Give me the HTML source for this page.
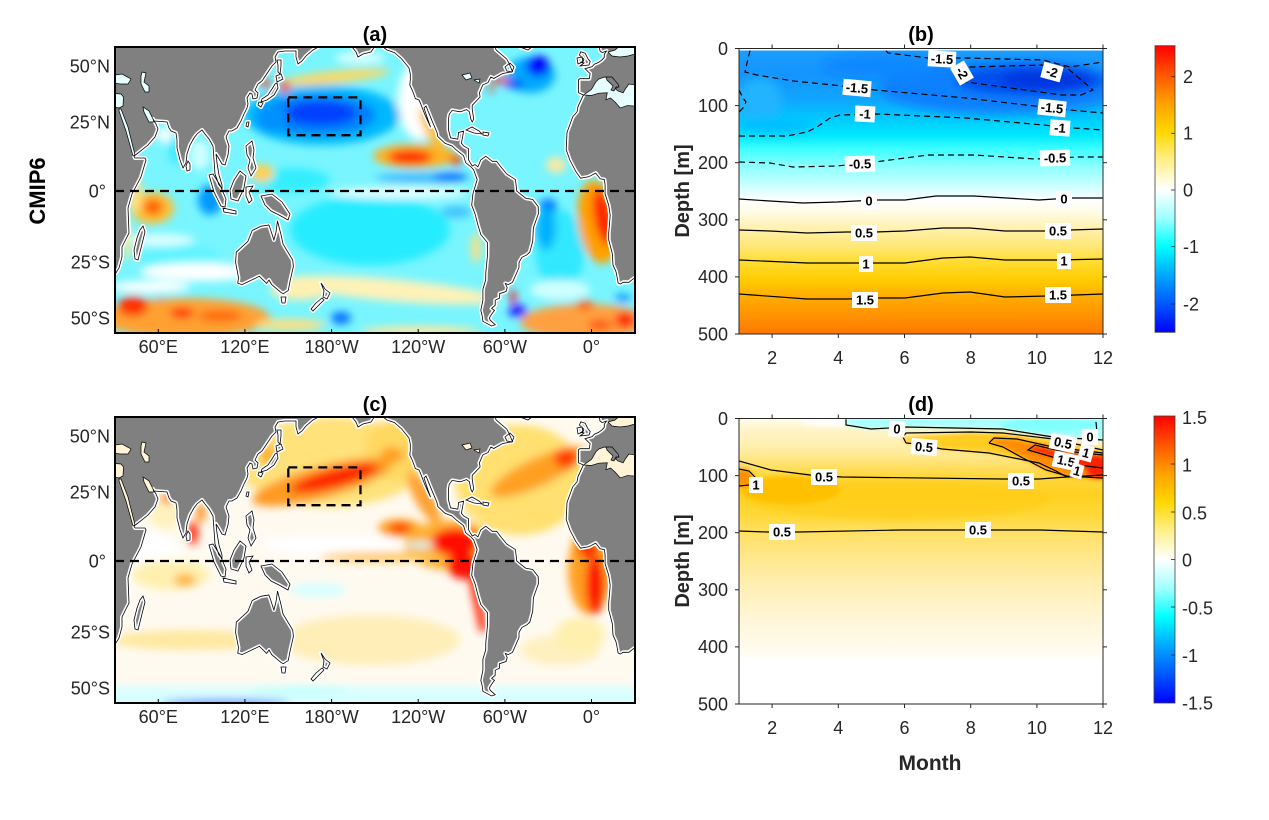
<!DOCTYPE html>
<html><head><meta charset="utf-8"><style>html,body{margin:0;padding:0;background:#fff}svg{display:block}</style></head>
<body>
<svg width="1269" height="820" viewBox="0 0 1269 820" xmlns="http://www.w3.org/2000/svg" xmlns:xlink="http://www.w3.org/1999/xlink" font-family="'Liberation Sans', Arial, sans-serif">
<defs>
<filter id="bM" x="-20%" y="-20%" width="140%" height="140%"><feGaussianBlur stdDeviation="4.2"/></filter>
<filter id="bB" x="-20%" y="-20%" width="140%" height="140%"><feGaussianBlur stdDeviation="5"/></filter>
<filter id="bD" x="-20%" y="-20%" width="140%" height="140%"><feGaussianBlur stdDeviation="2.5"/></filter>
<clipPath id="cA"><rect x="115" y="47" width="520" height="286"/></clipPath>
<clipPath id="cC"><rect x="115" y="417" width="520" height="286"/></clipPath>
<clipPath id="cB"><rect x="739" y="50.5" width="364" height="283.5"/></clipPath>
<clipPath id="cD"><rect x="739" y="419.3" width="364" height="239"/></clipPath>
<linearGradient id="cbar" x1="0" y1="0" x2="0" y2="1">
<stop offset="0" stop-color="#ff0000"/><stop offset="0.1" stop-color="#ff5500"/><stop offset="0.2" stop-color="#ffa000"/><stop offset="0.3" stop-color="#ffd700"/><stop offset="0.4" stop-color="#ffef8a"/><stop offset="0.5" stop-color="#ffffff"/><stop offset="0.6" stop-color="#a0ffff"/><stop offset="0.7" stop-color="#00ffff"/><stop offset="0.8" stop-color="#00a8ff"/><stop offset="0.9" stop-color="#0058ff"/><stop offset="1" stop-color="#0000ff"/>
</linearGradient>
<linearGradient id="gB" gradientUnits="userSpaceOnUse" x1="0" y1="48.5" x2="0" y2="334">
<stop offset="0" stop-color="#1c9eff"/><stop offset="0.093" stop-color="#1494ff"/><stop offset="0.18" stop-color="#10a6ff"/><stop offset="0.243" stop-color="#00c8ff"/><stop offset="0.303" stop-color="#00e8ff"/><stop offset="0.355" stop-color="#40ffff"/><stop offset="0.408" stop-color="#88ffff"/><stop offset="0.478" stop-color="#c8ffff"/><stop offset="0.531" stop-color="#ffffff"/><stop offset="0.573" stop-color="#fffbe6"/><stop offset="0.636" stop-color="#fff0a8"/><stop offset="0.699" stop-color="#ffe670"/><stop offset="0.748" stop-color="#ffdc30"/><stop offset="0.811" stop-color="#ffcc00"/><stop offset="0.870" stop-color="#ffac00"/><stop offset="0.944" stop-color="#ff9000"/><stop offset="1" stop-color="#ff7800"/>
</linearGradient>
<linearGradient id="gD" gradientUnits="userSpaceOnUse" x1="0" y1="419" x2="0" y2="660">
<stop offset="0" stop-color="#fffbe8"/><stop offset="0.046" stop-color="#fff4c8"/><stop offset="0.108" stop-color="#fff0b0"/><stop offset="0.170" stop-color="#ffe580"/><stop offset="0.232" stop-color="#ffd840"/><stop offset="0.315" stop-color="#ffd020"/><stop offset="0.398" stop-color="#ffd838"/><stop offset="0.481" stop-color="#ffe068"/><stop offset="0.585" stop-color="#ffe890"/><stop offset="0.710" stop-color="#fff0b8"/><stop offset="0.834" stop-color="#fff6d8"/><stop offset="0.959" stop-color="#fffbee"/><stop offset="0.988" stop-color="#fffdf7"/><stop offset="1" stop-color="#ffffff"/>
</linearGradient>
<path id="LP" d="M108,40 L325,40 L322,45 L313,50 L306,56 L302,61 L298,64 L296,57 L296,51 L285,51 L278,52 L275,57 L276,62 L272,66 L268,72 L264,78 L262,81 L258,84 L256,88 L255,90 L258,93 L257,98 L253,99 L252,94 L250,93 L247,98 L248,104 L247,108 L244,114 L241,121 L237,128 L232,131 L229,131 L226,137 L229,146 L228,155 L225,165 L222,164 L218,157 L216,154 L217,163 L219,175 L222,185 L222,188 L219,185 L215,174 L214,160 L213,146 L209,139 L205,134 L202,130 L197,134 L194,138 L190,145 L187,154 L186,163 L183,168 L180,160 L177,148 L177,140 L176,133 L171,131 L169,128 L167,122 L154,121 L153,119 L156,124 L158,129 L155,137 L148,145 L138,153 L134,156 L135,158 L145,158 L146,160 L141,177 L132,194 L128,208 L129,233 L122,247 L122,257 L119,268 L114,276 L108,277 Z
M277,60 L281,60 L281,66 L280,74 L278,72 L278,65 Z
M276,76 L281,74 L283,79 L277,82 Z
M277,83 L278,88 L274,95 L267,100 L261,102 L262,99 L268,95 L272,89 L275,84 Z
M259,102 L263,103 L261,107 L258,105 Z
M247,122 L249,122 L248,127 L246,126 Z
M246,146 L252,141 L254,150 L253,158 L256,168 L251,176 L248,168 L250,160 L247,155 Z
M230,190 L234,180 L240,171 L246,176 L244,188 L238,201 L231,199 Z
M209,175 L213,174 L220,185 L226,199 L225,207 L221,206 L214,192 Z
M223,208 L236,211 L236,214 L224,212 Z
M246,187 L253,186 L249,192 L252,200 L249,203 L246,196 Z
M261,196 L272,194 L282,202 L290,214 L288,220 L279,215 L271,211 L265,205 Z
M277.5,221 L281,234.6 L283,244 L292.7,260 L293.4,266.4 L289.8,282.3 L288.3,290.4 L283.3,293.7 L281.1,292.6 L271.7,284.6 L269,280 L266.6,283.4 L259.4,276.3 L242.1,284.6 L237.8,283.2 L238.5,277.5 L235.6,262.5 L236.3,252.1 L247.9,241.4 L252.2,230.5 L260.8,226.3 L268.8,225 L270,228 L273.9,240 L276,232 Z
M281,297 L286,297 L285,303 L282,303 Z
M321,283 L325,289 L330,293 L327,299 L323,297 L324,291 Z
M322,298 L324,300 L318,306 L313,311 L311,309 L316,303 Z
M188,161 L190,164 L190,170 L187,171 L186,166 Z
M143,226 L145,232 L141,248 L138,260 L135,259 L134,250 L137,238 L140,230 Z
M351,40 L352,47 L356,52 L358,57 L363,54 L371,52 L379,40 Z
M381,40 L383,47 L387,50 L394.5,52.6 L401.7,59 L409,68 L410.3,74 L410.3,80 L409.8,85 L412.6,91 L415.4,98.6 L419,100 L420.5,103.3 L425,115 L430.6,127.2 L428,120 L424,108 L426,106 L432,120.7 L437,132.5 L437.8,136.5 L445,143.3 L452,146 L456.3,150 L463.6,155.7 L465.7,162.7 L471,167 L473.6,169.7 L477.2,179.6 L472.9,193.8 L471.7,205.2 L475,213.7 L477.9,224.9 L480.8,234.6 L487.6,242.8 L487.4,256.3 L485.8,272.6 L485.7,279.9 L482.9,289.2 L482.9,300.2 L480.8,310.4 L482.2,316 L482.9,321.3 L491.6,326 L495.2,324.7 L490.1,320.1 L489.4,317.9 L491.6,314.2 L494.5,310.4 L491.6,308.4 L495.2,305.3 L495.2,300.2 L499.5,298.1 L499.5,293.7 L506,291.5 L507.2,287.6 L505.3,283.4 L508.2,284.6 L512.5,282.3 L519,267.6 L519,262.5 L521.9,257.4 L526.9,254.8 L529.8,252.1 L532.7,241.4 L533.4,227.7 L538.4,213.7 L538.2,206.6 L532.7,199.5 L525.5,198.1 L516.8,191 L515.4,179.6 L506.7,174 L500.9,166.9 L496.6,161.3 L492.3,161.3 L485.8,156.2 L480.8,159.9 L477.9,166.9 L475,164.6 L472.2,166 L468.6,159.9 L468.6,148.8 L463.6,146 L461.4,143.3 L463.6,131.2 L458.6,132.5 L457.8,139.2 L450.6,137.9 L448.5,129.9 L448.5,119.1 L449.2,114.4 L452.1,110.4 L459.3,111.7 L460.7,111.7 L466.5,109.6 L469.4,111.7 L470.8,119.1 L472.2,122 L473.7,119.1 L472.2,109.1 L472.2,105.3 L480.1,97 L479.4,92.8 L482.3,86.1 L483,84.8 L488,82.6 L490.9,77 L493.8,78.5 L502.4,73.6 L512.5,71.6 L508.9,63.2 L506.7,59 L500.9,54.1 L495.9,49.7 L494,40 Z
M517,40 L520,47 L528,50 L532,47 L535,40 Z
M466,130 L472,127 L479,131 L482,134 L474,133 Z
M483,132 L489,133 L488,136 L483,135 Z
M505,67 L510,63 L514,67 L512,72 L507,71 Z
M580.1,66 L584,63 L580.8,62.4 L583.7,60.7 L583.7,59 L579.4,55 L580.8,51.8 L585.2,53.3 L588.1,59 L590.2,61.5 L589,65 Z
M577,58 L582,57 L583,62 L578,64 Z
M599,40 L599.3,47 L600,51 L602.2,52.6 L606.5,51 L604.3,54.3 L604.3,57.3 L602.2,59.7 L598.6,62.4 L594.3,64.2 L592.1,66.6 L585,68.7 L590.1,73.6 L589.3,78.7 L579.9,78.7 L578.5,79.8 L578.5,89 L578.5,92.8 L583.6,95.1 L582.9,96 L577.9,106.9 L577.1,111.7 L572.7,116.9 L567,132.5 L566.2,149.6 L569.8,159.9 L572.7,165.5 L575.6,171.1 L580.6,178.2 L588.6,176.8 L595.7,173.1 L600.1,178.8 L604.4,179.6 L605.1,185.3 L605.1,193.8 L608.7,205.2 L610.2,215.1 L608.7,233.2 L608.7,240 L612.3,253.5 L613,265.1 L615.9,271.4 L617.4,278.7 L618.1,283 L620.2,284.1 L623.1,282.3 L628.9,282.3 L631.8,279.9 L642,273 L642,40 Z"/>
<path id="SP" d="M108,76 L122,74 L131,79 L128,84 L120,84 L108,82 Z
M142,72 L146,73 L144,82 L149,86 L149,92 L145,92 L141,84 L141,76 Z
M108,93 L121,94 L123.5,97 L123,106 L119,108 L108,106 Z
M119,109 L121,109 L128,127 L135,155 L133,156 L126,131 L119,111 Z
M153,119 L149,111 L143,107 L144,112 L149,122 L154,122 Z
M583.6,95 L591.5,89.4 L595.9,81.8 L598.7,79.1 L604.4,77 L608.8,77.6 L614.5,84 L618.1,86.1 L615.5,89 L618,91 L623.1,92.8 L626,88 L628.9,84 L642,86 L642,106.5 L627.4,105.6 L620.2,107.9 L615,102 L610.5,98 L605.9,99.7 L607.3,92.8 L598.7,93.2 L591.5,95.5 Z
M608,52 L615,50 L622,44 L642,44 L642,52 L628,56 L620,57 L612,56 Z
M462,75 L470,73 L472,78 L466,80 Z M474,80 L480,79 L479,83 Z"/>
<path id="IT" d="M606,77 L612,77 L618,84 L619,87 L616,87 L614,91 L611,90 L613,86 L607,80 Z"/>
</defs>
<rect width="1269" height="820" fill="#fff"/>

<!-- ===== Panel (a) ===== -->
<g clip-path="url(#cA)">
<rect x="110" y="42" width="530" height="296" fill="#78f5ff"/>
<g filter="url(#bM)">
<ellipse cx="370" cy="230" rx="80" ry="35" fill="#28ecff"/>
<ellipse cx="290" cy="180" rx="40" ry="12" fill="#30eeff"/>
<ellipse cx="180" cy="258" rx="40" ry="14" fill="#60f4ff"/>
<ellipse cx="560" cy="250" rx="25" ry="40" fill="#30e8ff"/>
<ellipse cx="420" cy="100" rx="22" ry="40" fill="#ffffff"/>
<ellipse cx="360" cy="58" rx="25" ry="6" fill="#d8ffff"/>
<ellipse cx="200" cy="272" rx="60" ry="9" fill="#ffffff"/>
<ellipse cx="160" cy="240" rx="35" ry="6" fill="#e0ffff"/>
<ellipse cx="400" cy="193" rx="70" ry="6" fill="#e8ffff"/>
<ellipse cx="150" cy="287" rx="40" ry="6" fill="#ffffff"/>
<ellipse cx="560" cy="290" rx="30" ry="10" fill="#d0ffff"/>
<ellipse cx="390" cy="290" rx="110" ry="11" transform="rotate(5 390 290)" fill="#fff2b8"/>
<ellipse cx="300" cy="290" rx="30" ry="10" fill="#fff0b0"/>
<ellipse cx="556" cy="165" rx="10" ry="8" fill="#ffe8a0"/>
<ellipse cx="322" cy="115" rx="78" ry="30" fill="#00b8ff"/>
<ellipse cx="318" cy="115" rx="58" ry="20" fill="#0080ff"/>
<ellipse cx="320" cy="113" rx="36" ry="12" fill="#0040ff"/>
<ellipse cx="272" cy="118" rx="16" ry="14" fill="#0090ff"/>
<ellipse cx="420" cy="178" rx="45" ry="5" fill="#40b8ff"/>
<ellipse cx="450" cy="177" rx="18" ry="4" fill="#0060ff"/>
<ellipse cx="210" cy="200" rx="12" ry="15" fill="#0098ff"/>
<ellipse cx="530" cy="75" rx="25" ry="18" fill="#00a8ff"/>
<ellipse cx="538" cy="66" rx="12" ry="10" fill="#0000ff"/>
<ellipse cx="514" cy="84" rx="9" ry="4" fill="#0020ff"/>
<ellipse cx="548" cy="207" rx="9" ry="8" fill="#0068ff"/>
<ellipse cx="546" cy="228" rx="10" ry="22" fill="#00b0ff"/>
<ellipse cx="518" cy="311" rx="9" ry="6" fill="#0010ff"/>
<ellipse cx="341" cy="318" rx="10" ry="6" fill="#0068ff"/>
<ellipse cx="162" cy="302" rx="5" ry="5" fill="#0080ff"/>
<ellipse cx="623" cy="298" rx="8" ry="4" fill="#0090ff"/>
<ellipse cx="456" cy="212" rx="15" ry="6" fill="#40c0ff"/>
<ellipse cx="335" cy="77" rx="55" ry="6" transform="rotate(-6 335 77)" fill="#ffd860"/>
<ellipse cx="266" cy="84" rx="4" ry="5" fill="#ff2000"/>
<ellipse cx="285" cy="87" rx="5" ry="6" fill="#ff2000"/>
<ellipse cx="432" cy="128" rx="8" ry="24" transform="rotate(-25 432 128)" fill="#ffc040"/>
<ellipse cx="415" cy="156" rx="42" ry="12" fill="#ffb020"/>
<ellipse cx="410" cy="157" rx="22" ry="7" fill="#ff2800"/>
<ellipse cx="456" cy="160" rx="6" ry="5" fill="#ff3000"/>
<ellipse cx="262" cy="173" rx="12" ry="9" fill="#ffd050"/>
<ellipse cx="152" cy="208" rx="22" ry="16" fill="#ffc030"/>
<ellipse cx="153" cy="207" rx="10" ry="8" fill="#ff6000"/>
<ellipse cx="135" cy="195" rx="7" ry="18" fill="#ffe080"/>
<ellipse cx="185" cy="318" rx="85" ry="20" fill="#ffa030"/>
<ellipse cx="133" cy="306" rx="15" ry="10" fill="#ff3000"/>
<ellipse cx="182" cy="313" rx="12" ry="5" fill="#ff2000"/>
<ellipse cx="220" cy="316" rx="22" ry="5" fill="#ff6000"/>
<ellipse cx="290" cy="325" rx="35" ry="6" fill="#ffe080"/>
<ellipse cx="420" cy="331" rx="60" ry="5" fill="#ffe8a0"/>
<ellipse cx="500" cy="80" rx="10" ry="3" fill="#ff2000"/>
<ellipse cx="491" cy="89" rx="3" ry="3" fill="#ff2000"/>
<ellipse cx="598" cy="222" rx="20" ry="42" transform="rotate(-8 598 222)" fill="#ffa000"/>
<ellipse cx="603" cy="217" rx="9" ry="28" transform="rotate(-10 603 217)" fill="#ff2000"/>
<ellipse cx="585" cy="322" rx="65" ry="18" fill="#ffa040"/>
<ellipse cx="625" cy="320" rx="10" ry="8" fill="#ff2000"/>
<ellipse cx="585" cy="305" rx="8" ry="5" fill="#ff6000"/>
<ellipse cx="600" cy="325" rx="12" ry="5" fill="#ff5000"/>
<ellipse cx="513" cy="297" rx="3" ry="7" fill="#ff0000"/>
<ellipse cx="476" cy="248" rx="5" ry="15" fill="#ffe080"/>
<ellipse cx="165" cy="135" rx="8" ry="8" fill="#ffffff"/>
<ellipse cx="175" cy="150" rx="6" ry="15" fill="#40e8ff"/>
<ellipse cx="200" cy="155" rx="10" ry="15" fill="#d0ffff"/>
<ellipse cx="127" cy="240" rx="4" ry="20" fill="#ffe890"/>
</g>
<use xlink:href="#LP" href="#LP" fill="#808080" stroke="#ffffff" stroke-width="4" stroke-linejoin="round"/>
<use xlink:href="#LP" href="#LP" fill="none" stroke="#000" stroke-width="0.8"/>
<use xlink:href="#SP" href="#SP" fill="#e8ffff" stroke="#000" stroke-width="0.7"/>
<use xlink:href="#IT" href="#IT" fill="#808080" stroke="#000" stroke-width="0.7"/>
<line x1="115" y1="191" x2="635" y2="191" stroke="#000" stroke-width="2.3" stroke-dasharray="9,6"/>
<rect x="288.3" y="97.4" width="72.2" height="37.8" fill="none" stroke="#000" stroke-width="2.3" stroke-dasharray="9,6"/>
</g>
<rect x="115" y="47" width="520" height="286" fill="none" stroke="#000" stroke-width="2"/>
<g stroke="#000" stroke-width="1">
<line x1="158.3" y1="333" x2="158.3" y2="329"/><line x1="244.9" y1="333" x2="244.9" y2="329"/><line x1="331.6" y1="333" x2="331.6" y2="329"/><line x1="418.2" y1="333" x2="418.2" y2="329"/><line x1="504.9" y1="333" x2="504.9" y2="329"/><line x1="591.5" y1="333" x2="591.5" y2="329"/>
</g>

<!-- ===== Panel (c) ===== -->
<g clip-path="url(#cC)">
<rect x="110" y="412" width="530" height="296" fill="#fffaf0"/>
<g filter="url(#bM)">
<ellipse cx="330" cy="545" rx="70" ry="10" fill="#ffffff"/>
<ellipse cx="150" cy="560" rx="30" ry="30" fill="#ffffff"/>
<ellipse cx="330" cy="462" rx="95" ry="45" fill="#ffe27a"/>
<ellipse cx="395" cy="450" rx="30" ry="30" fill="#ffd860"/>
<ellipse cx="322" cy="482" rx="72" ry="16" transform="rotate(-15 322 482)" fill="#ff9a20"/>
<ellipse cx="335" cy="478" rx="45" ry="9" transform="rotate(-15 335 478)" fill="#ff2800"/>
<ellipse cx="392" cy="455" rx="12" ry="8" fill="#ffa020"/>
<ellipse cx="400" cy="528" rx="22" ry="9" fill="#ffa020"/>
<ellipse cx="400" cy="528" rx="11" ry="5" fill="#ff3000"/>
<ellipse cx="424" cy="498" rx="9" ry="30" transform="rotate(-30 424 498)" fill="#ffa030"/>
<ellipse cx="450" cy="545" rx="45" ry="25" fill="#ffb030"/>
<ellipse cx="455" cy="542" rx="24" ry="14" fill="#ff1000"/>
<ellipse cx="463" cy="565" rx="16" ry="14" fill="#ff1000"/>
<path d="M468,575 L478,575 L487,630 L480,632 Z" fill="#ff2000"/>
<ellipse cx="380" cy="557" rx="60" ry="5" fill="#ffc860"/>
<ellipse cx="420" cy="545" rx="14" ry="3" fill="#c8ffff"/>
<ellipse cx="318" cy="590" rx="28" ry="7" fill="#d6ffff"/>
<ellipse cx="520" cy="480" rx="65" ry="55" fill="#ffe070"/>
<ellipse cx="538" cy="472" rx="52" ry="14" transform="rotate(-25 538 472)" fill="#ffa020"/>
<ellipse cx="566" cy="458" rx="12" ry="10" fill="#ff4000"/>
<ellipse cx="590" cy="570" rx="22" ry="45" fill="#ffa020"/>
<ellipse cx="595" cy="585" rx="9" ry="30" fill="#ff1000"/>
<ellipse cx="588" cy="547" rx="10" ry="12" fill="#ff3000"/>
<ellipse cx="600" cy="453" rx="5" ry="3" fill="#ff3000"/>
<ellipse cx="620" cy="460" rx="10" ry="4" fill="#ffa040"/>
<ellipse cx="165" cy="510" rx="18" ry="20" fill="#fff2c0"/>
<ellipse cx="193" cy="533" rx="5" ry="12" fill="#ff2000"/>
<ellipse cx="167" cy="498" rx="6" ry="6" fill="#ff8000"/>
<ellipse cx="201" cy="513" rx="4" ry="10" fill="#ff8000"/>
<ellipse cx="170" cy="575" rx="40" ry="15" fill="#fff0b0"/>
<ellipse cx="185" cy="580" rx="11" ry="6" fill="#ffb030"/>
<ellipse cx="190" cy="640" rx="80" ry="10" fill="#ffe8a0"/>
<ellipse cx="370" cy="640" rx="90" ry="25" fill="#ffeeb8"/>
<ellipse cx="560" cy="650" rx="40" ry="15" fill="#fff0c0"/>
<ellipse cx="580" cy="635" rx="25" ry="18" fill="#fff0b0"/>
<rect x="100" y="686" width="550" height="30" fill="#d8ffff"/>
<ellipse cx="300" cy="690" rx="50" ry="4" fill="#c0ffff"/>
<ellipse cx="225" cy="703" rx="65" ry="3" fill="#0050ff"/>
<ellipse cx="268" cy="455" rx="8" ry="10" fill="#ffb030"/>
</g>
<g transform="translate(0,370)">
<use xlink:href="#LP" href="#LP" fill="#808080" stroke="#ffffff" stroke-width="4" stroke-linejoin="round"/>
<use xlink:href="#LP" href="#LP" fill="none" stroke="#000" stroke-width="0.8"/>
<use xlink:href="#SP" href="#SP" fill="#fff4d8" stroke="#000" stroke-width="0.7"/>
<use xlink:href="#IT" href="#IT" fill="#808080" stroke="#000" stroke-width="0.7"/>
</g>
<line x1="115" y1="561" x2="635" y2="561" stroke="#000" stroke-width="2.3" stroke-dasharray="9,6"/>
<rect x="288.3" y="467.4" width="72.2" height="37.8" fill="none" stroke="#000" stroke-width="2.3" stroke-dasharray="9,6"/>
</g>
<rect x="115" y="417" width="520" height="286" fill="none" stroke="#000" stroke-width="2"/>
<g stroke="#000" stroke-width="1">
<line x1="158.3" y1="703" x2="158.3" y2="699"/><line x1="244.9" y1="703" x2="244.9" y2="699"/><line x1="331.6" y1="703" x2="331.6" y2="699"/><line x1="418.2" y1="703" x2="418.2" y2="699"/><line x1="504.9" y1="703" x2="504.9" y2="699"/><line x1="591.5" y1="703" x2="591.5" y2="699"/>
</g>

<!-- map labels -->
<g font-size="18" fill="#262626">
<text x="110" y="72.5" text-anchor="end">50°N</text>
<text x="110" y="128.5" text-anchor="end">25°N</text>
<text x="106" y="197.5" text-anchor="end">0°</text>
<text x="110" y="268.5" text-anchor="end">25°S</text>
<text x="110" y="324.5" text-anchor="end">50°S</text>
<text x="158.3" y="353" text-anchor="middle">60°E</text>
<text x="244.9" y="353" text-anchor="middle">120°E</text>
<text x="331.6" y="353" text-anchor="middle">180°W</text>
<text x="418.2" y="353" text-anchor="middle">120°W</text>
<text x="504.9" y="353" text-anchor="middle">60°W</text>
<text x="591.5" y="353" text-anchor="middle">0°</text>
<text x="110" y="442.5" text-anchor="end">50°N</text>
<text x="110" y="498.5" text-anchor="end">25°N</text>
<text x="106" y="567.5" text-anchor="end">0°</text>
<text x="110" y="638.5" text-anchor="end">25°S</text>
<text x="110" y="694.5" text-anchor="end">50°S</text>
<text x="158.3" y="723" text-anchor="middle">60°E</text>
<text x="244.9" y="723" text-anchor="middle">120°E</text>
<text x="331.6" y="723" text-anchor="middle">180°W</text>
<text x="418.2" y="723" text-anchor="middle">120°W</text>
<text x="504.9" y="723" text-anchor="middle">60°W</text>
<text x="591.5" y="723" text-anchor="middle">0°</text>
</g>

<!-- ===== Panel (b) ===== -->
<g clip-path="url(#cB)">
<rect x="735" y="45" width="372" height="293" fill="url(#gB)"/>
<g filter="url(#bB)">
<ellipse cx="1000" cy="88" rx="120" ry="26" fill="#0a80ff"/>
<ellipse cx="880" cy="66" rx="60" ry="12" fill="#0a88ff"/>
<ellipse cx="1030" cy="80" rx="75" ry="16" fill="#0050ee"/>
<ellipse cx="1045" cy="80" rx="45" ry="10" fill="#0036e0"/>
<ellipse cx="760" cy="100" rx="22" ry="22" fill="#20b4ff"/>
<ellipse cx="775" cy="125" rx="40" ry="9" fill="#00c0ff"/>
</g>
<g fill="none" stroke="#000" stroke-width="1.2" stroke-dasharray="6,4">
<path d="M886,50.5 L888,53 L928,58 L966,58 L1043,60 L1070,67 L1103,62"/>
<path d="M966,82 L961,75 L970,67 L1043,65 L1066,67 L1093,90 L1081,95 L1062,95 Z"/>
<path d="M750,50.5 L747,63 L745,72 L757,75 L793,81 L833,85 L875,90 L966,98 L1043,107 L1070,110 L1103,113"/>
<path d="M739,90 L743,98 L746,102 L743,108 L739,112"/>
<path d="M739,136 L787,136 L807,132 L817,127 L830,118 L840,115 L878,114 L966,118 L1043,125 L1074,128 L1103,130"/>
<path d="M739,162 L770,163 L793,167 L837,166 L875,162 L928,155 L974,155 L1035,159 L1078,157 L1103,157"/>
</g>
<g fill="none" stroke="#000" stroke-width="1.2">
<path d="M739,199 L770,201 L803,203 L837,202 L875,200 L905,200 L936,196 L974,196 L1039,200 L1070,198 L1103,198"/>
<path d="M739,230 L770,231 L807,233 L847,232 L875,232 L905,231 L943,228 L970,228 L1005,231 L1047,231 L1070,230 L1103,229"/>
<path d="M739,260 L807,263 L847,263 L875,263 L905,263 L943,258 L970,257 L1005,260 L1058,260 L1103,259"/>
<path d="M739,294 L807,299 L847,299 L875,298 L905,298 L943,293 L970,292 L1005,297 L1047,296 L1103,294"/>
</g>
<g font-size="13" font-weight="bold" fill="#000" text-anchor="middle">
<g transform="translate(942,59) rotate(3)"><rect x="-14" y="-8" width="28" height="16" fill="#fff"/><text y="4.5">-1.5</text></g>
<g transform="translate(962,73) rotate(60)"><rect x="-10" y="-8" width="20" height="16" fill="#fff"/><text y="4.5">-2</text></g>
<g transform="translate(1052,72) rotate(15)"><rect x="-10" y="-8" width="20" height="16" fill="#fff"/><text y="4.5">-2</text></g>
<g transform="translate(857,88) rotate(5)"><rect x="-14" y="-8" width="28" height="16" fill="#fff"/><text y="4.5">-1.5</text></g>
<g transform="translate(1052,108) rotate(6)"><rect x="-14" y="-8" width="28" height="16" fill="#fff"/><text y="4.5">-1.5</text></g>
<g transform="translate(865,114) rotate(3)"><rect x="-10" y="-8" width="20" height="16" fill="#fff"/><text y="4.5">-1</text></g>
<g transform="translate(1060,128) rotate(4)"><rect x="-10" y="-8" width="20" height="16" fill="#fff"/><text y="4.5">-1</text></g>
<g transform="translate(860,164) rotate(-2)"><rect x="-15" y="-8" width="30" height="16" fill="#fff"/><text y="4.5">-0.5</text></g>
<g transform="translate(1055,158) rotate(-2)"><rect x="-15" y="-8" width="30" height="16" fill="#fff"/><text y="4.5">-0.5</text></g>
<g transform="translate(869,201)"><rect x="-8" y="-8" width="16" height="16" fill="#fff"/><text y="4.5">0</text></g>
<g transform="translate(1064,199)"><rect x="-8" y="-8" width="16" height="16" fill="#fff"/><text y="4.5">0</text></g>
<g transform="translate(864,233)"><rect x="-13" y="-8" width="26" height="16" fill="#fff"/><text y="4.5">0.5</text></g>
<g transform="translate(1058,231)"><rect x="-13" y="-8" width="26" height="16" fill="#fff"/><text y="4.5">0.5</text></g>
<g transform="translate(866,264)"><rect x="-7" y="-8" width="14" height="16" fill="#fff"/><text y="4.5">1</text></g>
<g transform="translate(1064,261)"><rect x="-7" y="-8" width="14" height="16" fill="#fff"/><text y="4.5">1</text></g>
<g transform="translate(865,300)"><rect x="-13" y="-8" width="26" height="16" fill="#fff"/><text y="4.5">1.5</text></g>
<g transform="translate(1058,295)"><rect x="-13" y="-8" width="26" height="16" fill="#fff"/><text y="4.5">1.5</text></g>
</g>
</g>
<rect x="739" y="48.5" width="364" height="285.5" fill="none" stroke="#262626" stroke-width="1"/>
<g stroke="#262626" stroke-width="1">
<line x1="735" y1="48.5" x2="739" y2="48.5"/><line x1="735" y1="105.6" x2="739" y2="105.6"/><line x1="735" y1="162.7" x2="739" y2="162.7"/><line x1="735" y1="219.8" x2="739" y2="219.8"/><line x1="735" y1="276.9" x2="739" y2="276.9"/><line x1="735" y1="334" x2="739" y2="334"/>
<line x1="1103" y1="48.5" x2="1107" y2="48.5"/><line x1="1103" y1="105.6" x2="1107" y2="105.6"/><line x1="1103" y1="162.7" x2="1107" y2="162.7"/><line x1="1103" y1="219.8" x2="1107" y2="219.8"/><line x1="1103" y1="276.9" x2="1107" y2="276.9"/><line x1="1103" y1="334" x2="1107" y2="334"/>
<line x1="772.1" y1="334" x2="772.1" y2="338"/><line x1="838.3" y1="334" x2="838.3" y2="338"/><line x1="904.5" y1="334" x2="904.5" y2="338"/><line x1="970.7" y1="334" x2="970.7" y2="338"/><line x1="1036.9" y1="334" x2="1036.9" y2="338"/><line x1="1103" y1="334" x2="1103" y2="338"/>
<line x1="772.1" y1="48.5" x2="772.1" y2="44.5"/><line x1="838.3" y1="48.5" x2="838.3" y2="44.5"/><line x1="904.5" y1="48.5" x2="904.5" y2="44.5"/><line x1="970.7" y1="48.5" x2="970.7" y2="44.5"/><line x1="1036.9" y1="48.5" x2="1036.9" y2="44.5"/><line x1="1103" y1="48.5" x2="1103" y2="44.5"/>
</g>

<!-- ===== Panel (d) ===== -->
<g clip-path="url(#cD)">
<rect x="735" y="415" width="372" height="250" fill="url(#gD)"/>
<g filter="url(#bD)">
<ellipse cx="900" cy="500" rx="150" ry="20" fill="#ffcc10" opacity="0.6"/>
<ellipse cx="790" cy="490" rx="50" ry="14" fill="#ffc000"/>
<ellipse cx="743" cy="478" rx="10" ry="9" fill="#ff9000"/>
<ellipse cx="830" cy="421" rx="30" ry="5" fill="#ffffff"/>
<path d="M846,415 L846,425 L871,429 L906,427 L1003,429 L1053,437 L1103,440 L1110,440 L1110,415 Z" fill="#a8ffff"/>
<ellipse cx="1050" cy="425" rx="50" ry="7" fill="#80ffff"/>
<path d="M903,437 L971,432 L1003,433 L1053,439 L1103,450 L1110,450 L1110,480 L1067,477 L1056,471 L1039,463 L989,453 L942,449 L906,443 Z" fill="#ffcc20"/>
<path d="M989,443 L994,438 L1017,439 L1053,447 L1103,453 L1110,453 L1110,480 L1067,476 L1046,470 L1021,457 L1003,447 Z" fill="#ff8c00"/>
<path d="M1028,450 L1035,445 L1056,450 L1103,455 L1110,455 L1110,474 L1078,467 L1056,459 Z" fill="#ff2000"/>
<ellipse cx="1097" cy="471" rx="11" ry="8" fill="#ff2000"/>
</g>
<g fill="none" stroke="#000" stroke-width="1.2">
<path d="M846,419 L846,425 L871,429 L906,427 L1003,429 L1053,437 L1103,440"/>
<path d="M1096,422 L1097,433"/>
<path d="M906,443 L903,437 L906,433 L971,432 L1003,433 L1053,439 L1103,450"/>
<path d="M906,443 L917,444 L942,449 L989,453 L1039,463 L1056,471 L1067,477"/>
<path d="M739,461 L771,470 L810,475 L842,477 L1003,479 L1039,479 L1067,477 L1103,475"/>
<path d="M989,443 L994,438 L1017,439 L1053,447 L1103,453"/>
<path d="M989,443 L1003,447 L1021,457 L1046,470 L1067,476 L1103,478"/>
<path d="M1103,455 L1056,450 L1035,445 L1028,450 L1056,458 L1078,465 L1103,468"/>
<path d="M739,469 L749,471 L755,477 L760,482"/>
<path d="M739,486 L749,485"/>
<path d="M739,531 L767,532 L799,532 L900,530 L960,530 L1040,530 L1103,532"/>
</g>
<g font-size="13" font-weight="bold" fill="#000" text-anchor="middle">
<g transform="translate(897,429) rotate(5)"><rect x="-8" y="-8" width="16" height="16" fill="#fff"/><text y="4.5">0</text></g>
<g transform="translate(924,447) rotate(5)"><rect x="-13" y="-8" width="26" height="16" fill="#fff"/><text y="4.5">0.5</text></g>
<g transform="translate(1063,443) rotate(12)"><rect x="-13" y="-8" width="26" height="16" fill="#fff"/><text y="4.5">0.5</text></g>
<g transform="translate(1090,437)"><rect x="-8" y="-8" width="16" height="16" fill="#fff"/><text y="4.5">0</text></g>
<g transform="translate(1086,453) rotate(15)"><rect x="-7" y="-8" width="14" height="16" fill="#fff"/><text y="4.5">1</text></g>
<g transform="translate(1066,461) rotate(12)"><rect x="-13" y="-8" width="26" height="16" fill="#fff"/><text y="4.5">1.5</text></g>
<g transform="translate(1077,471) rotate(15)"><rect x="-6" y="-7" width="12" height="14" fill="#fff"/><text y="4.5">1</text></g>
<g transform="translate(824,477)"><rect x="-13" y="-8" width="26" height="16" fill="#fff"/><text y="4.5">0.5</text></g>
<g transform="translate(1021,481)"><rect x="-13" y="-8" width="26" height="16" fill="#fff"/><text y="4.5">0.5</text></g>
<g transform="translate(756,485)"><rect x="-7" y="-8" width="14" height="16" fill="#fff"/><text y="4.5">1</text></g>
<g transform="translate(782,532)"><rect x="-13" y="-8" width="26" height="16" fill="#fff"/><text y="4.5">0.5</text></g>
<g transform="translate(978,530)"><rect x="-13" y="-8" width="26" height="16" fill="#fff"/><text y="4.5">0.5</text></g>
</g>
</g>
<rect x="739" y="418.5" width="364" height="285.5" fill="none" stroke="#262626" stroke-width="1"/>
<g stroke="#262626" stroke-width="1">
<line x1="735" y1="418.5" x2="739" y2="418.5"/><line x1="735" y1="475.6" x2="739" y2="475.6"/><line x1="735" y1="532.7" x2="739" y2="532.7"/><line x1="735" y1="589.8" x2="739" y2="589.8"/><line x1="735" y1="646.9" x2="739" y2="646.9"/><line x1="735" y1="704" x2="739" y2="704"/>
<line x1="1103" y1="418.5" x2="1107" y2="418.5"/><line x1="1103" y1="475.6" x2="1107" y2="475.6"/><line x1="1103" y1="532.7" x2="1107" y2="532.7"/><line x1="1103" y1="589.8" x2="1107" y2="589.8"/><line x1="1103" y1="646.9" x2="1107" y2="646.9"/><line x1="1103" y1="704" x2="1107" y2="704"/>
<line x1="772.1" y1="704" x2="772.1" y2="708"/><line x1="838.3" y1="704" x2="838.3" y2="708"/><line x1="904.5" y1="704" x2="904.5" y2="708"/><line x1="970.7" y1="704" x2="970.7" y2="708"/><line x1="1036.9" y1="704" x2="1036.9" y2="708"/><line x1="1103" y1="704" x2="1103" y2="708"/>
<line x1="772.1" y1="418.5" x2="772.1" y2="414.5"/><line x1="838.3" y1="418.5" x2="838.3" y2="414.5"/><line x1="904.5" y1="418.5" x2="904.5" y2="414.5"/><line x1="970.7" y1="418.5" x2="970.7" y2="414.5"/><line x1="1036.9" y1="418.5" x2="1036.9" y2="414.5"/><line x1="1103" y1="418.5" x2="1103" y2="414.5"/>
</g>

<!-- axis tick labels (b),(d) -->
<g font-size="18" fill="#262626">
<text x="728" y="55" text-anchor="end">0</text>
<text x="728" y="112" text-anchor="end">100</text>
<text x="728" y="169" text-anchor="end">200</text>
<text x="728" y="226" text-anchor="end">300</text>
<text x="728" y="283" text-anchor="end">400</text>
<text x="728" y="340.4" text-anchor="end">500</text>
<text x="772.1" y="364" text-anchor="middle">2</text>
<text x="838.3" y="364" text-anchor="middle">4</text>
<text x="904.5" y="364" text-anchor="middle">6</text>
<text x="970.7" y="364" text-anchor="middle">8</text>
<text x="1036.9" y="364" text-anchor="middle">10</text>
<text x="1103" y="364" text-anchor="middle">12</text>
<text x="728" y="425" text-anchor="end">0</text>
<text x="728" y="482" text-anchor="end">100</text>
<text x="728" y="539" text-anchor="end">200</text>
<text x="728" y="596" text-anchor="end">300</text>
<text x="728" y="653" text-anchor="end">400</text>
<text x="728" y="710.4" text-anchor="end">500</text>
<text x="772.1" y="734" text-anchor="middle">2</text>
<text x="838.3" y="734" text-anchor="middle">4</text>
<text x="904.5" y="734" text-anchor="middle">6</text>
<text x="970.7" y="734" text-anchor="middle">8</text>
<text x="1036.9" y="734" text-anchor="middle">10</text>
<text x="1103" y="734" text-anchor="middle">12</text>
</g>

<!-- colorbars -->
<rect x="1155" y="45.7" width="20" height="286.6" fill="url(#cbar)" stroke="#404040" stroke-width="0.8"/>
<rect x="1154" y="416" width="21" height="287" fill="url(#cbar)" stroke="#404040" stroke-width="0.8"/>
<g stroke="#262626" stroke-width="0.8">
<line x1="1171" y1="76.7" x2="1175" y2="76.7"/><line x1="1171" y1="133.3" x2="1175" y2="133.3"/><line x1="1171" y1="190" x2="1175" y2="190"/><line x1="1171" y1="246.7" x2="1175" y2="246.7"/><line x1="1171" y1="304" x2="1175" y2="304"/>
<line x1="1171" y1="464" x2="1175" y2="464"/><line x1="1171" y1="512" x2="1175" y2="512"/><line x1="1171" y1="559.5" x2="1175" y2="559.5"/><line x1="1171" y1="607" x2="1175" y2="607"/><line x1="1171" y1="655" x2="1175" y2="655"/>
</g>
<g font-size="18" fill="#262626">
<text x="1183" y="83">2</text>
<text x="1183" y="139.7">1</text>
<text x="1183" y="196.4">0</text>
<text x="1183" y="253">-1</text>
<text x="1183" y="310.4">-2</text>
<text x="1182" y="424">1.5</text>
<text x="1182" y="471.4">1</text>
<text x="1182" y="519.7">0.5</text>
<text x="1182" y="566.4">0</text>
<text x="1182" y="614.7">-0.5</text>
<text x="1182" y="662">-1</text>
<text x="1182" y="709.7">-1.5</text>
</g>

<!-- titles and axis labels -->
<g font-weight="bold" fill="#000">
<text x="375" y="41" font-size="20" text-anchor="middle">(a)</text>
<text x="921" y="41" font-size="20" text-anchor="middle">(b)</text>
<text x="375" y="411" font-size="20" text-anchor="middle">(c)</text>
<text x="921" y="411" font-size="20" text-anchor="middle">(d)</text>
<text x="930" y="770" font-size="21" text-anchor="middle" fill="#262626">Month</text>
<text transform="translate(689,191) rotate(-90)" font-size="20" text-anchor="middle" fill="#262626">Depth [m]</text>
<text transform="translate(689,561) rotate(-90)" font-size="20" text-anchor="middle" fill="#262626">Depth [m]</text>
<text transform="translate(45,191) rotate(-90)" font-size="22" text-anchor="middle">CMIP6</text>
</g>
</svg>
</body></html>
